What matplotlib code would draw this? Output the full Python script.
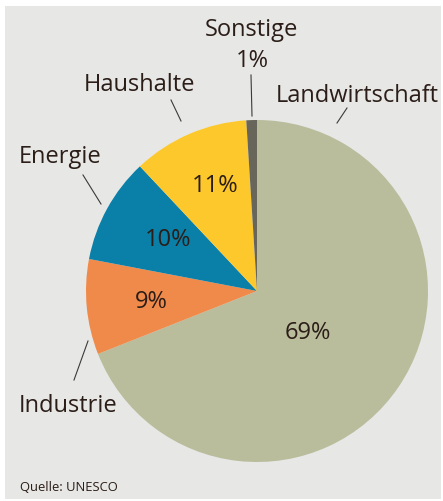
import matplotlib.pyplot as plt

labels = ['Landwirtschaft', 'Industrie', 'Energie', 'Haushalte', 'Sonstige']
shares = [69, 9, 10, 11, 1]
colors = ['#b9bd9c', '#f08a4b', '#0a7fa8', '#fdc82c', '#68665a']

txt = '#2b1d17'
bg = '#e7e7e5'

fig = plt.figure(figsize=(4.43, 5.02), dpi=100)
fig.patch.set_facecolor('white')
# gray panel
panel = fig.add_axes([5 / 443, 2 / 502, 436 / 443, 493 / 502])
panel.set_facecolor(bg)
panel.set_xticks([])
panel.set_yticks([])
for s in panel.spines.values():
    s.set_visible(False)

# pie axes (pixel coords: center 257,292 radius 171)
cx, cy, r = 257, 292, 171
ax = fig.add_axes([(cx - r) / 443, 1 - (cy + r) / 502, 2 * r / 443, 2 * r / 502])
ax.pie(shares, colors=colors, startangle=90, counterclock=False,
       wedgeprops=dict(linewidth=0))
ax.set_aspect('auto')
ax.set_xlim(-1, 1)
ax.set_ylim(-1, 1)

font = 'Open Sans'


def px(x, y):
    return x / 443, 1 - y / 502


# percent labels inside
inner = [('69%', 308, 333), ('9%', 151, 302), ('10%', 168, 240), ('11%', 215, 186)]
for t, x, y in inner:
    fig.text(*px(x, y), t, ha='center', va='center', fontsize=17,
             color=txt, family=font)

# outer labels
outer = [('Sonstige', 251, 30), ('1%', 252, 61), ('Haushalte', 139, 85),
         ('Landwirtschaft', 357, 96), ('Energie', 60, 157), ('Industrie', 68, 406)]
for t, x, y in outer:
    fig.text(*px(x, y), t, ha='center', va='center', fontsize=17,
             color=txt, family=font)

# leader lines
leaders = [((251, 76), (252, 117)), ((171, 101), (181, 122)),
           ((347, 109), (337, 124)), ((83, 176), (101, 205)),
           ((88, 342), (74, 381))]
for (x0, y0), (x1, y1) in leaders:
    fig.add_artist(plt.Line2D([x0 / 443, x1 / 443], [1 - y0 / 502, 1 - y1 / 502],
                              color='#3a3a3a', linewidth=0.8))

fig.text(*px(20, 488), 'Quelle: UNESCO', ha='left', va='center', fontsize=9.4,
         color=txt, family=font)

fig.savefig('out.png', dpi=100, facecolor=fig.get_facecolor())
